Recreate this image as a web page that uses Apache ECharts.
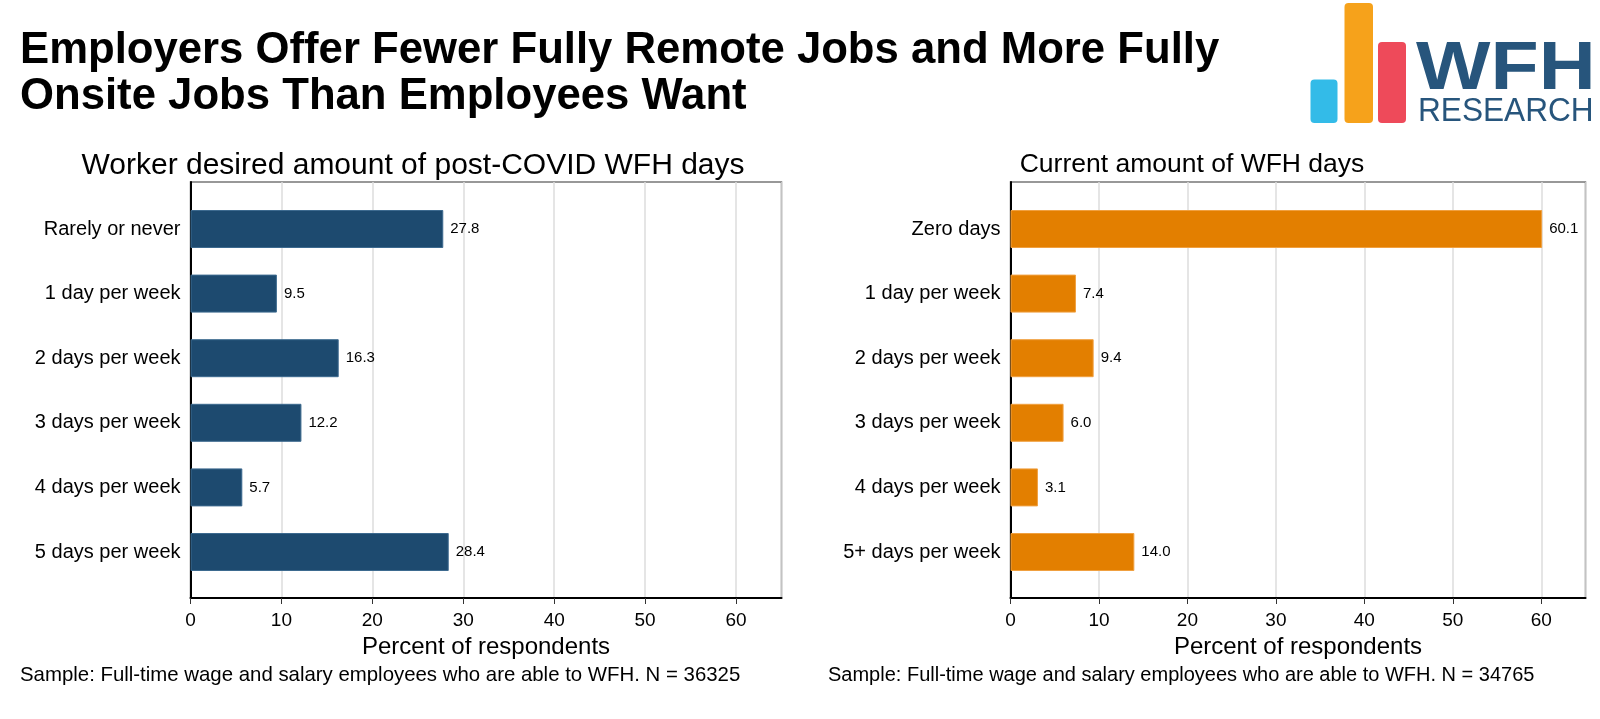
<!DOCTYPE html>
<html><head><meta charset="utf-8">
<script src="https://cdn.jsdelivr.net/npm/echarts@6/dist/echarts.min.js"></script>
<style>html,body{margin:0;padding:0;background:#fff}#c{width:1600px;height:719px}</style>
</head><body><div id="c"></div>
<script>
const leftCategories = ['Rarely or never','1 day per week','2 days per week','3 days per week','4 days per week','5 days per week'];
const leftValues = [27.8, 9.5, 16.3, 12.2, 5.7, 28.4];
const rightCategories = ['Zero days','1 day per week','2 days per week','3 days per week','4 days per week','5+ days per week'];
const rightValues = [60.1, 7.4, 9.4, 6.0, 3.1, 14.0];
const xTicks = [0,10,20,30,40,50,60];
const mainTitle = 'Employers Offer Fewer Fully Remote Jobs and More Fully\nOnsite Jobs Than Employees Want';
const leftTitle = 'Worker desired amount of post-COVID WFH days';
const rightTitle = 'Current amount of WFH days';
const axisName = 'Percent of respondents';
const leftNote = 'Sample: Full-time wage and salary employees who are able to WFH. N = 36325';
const rightNote = 'Sample: Full-time wage and salary employees who are able to WFH. N = 34765';

const FONT = 'Liberation Sans, Arial, Helvetica, sans-serif';
const chart = echarts.init(document.getElementById('c'));

const panels = [
  {left:190.5, width:591, cats:leftCategories, vals:leftValues, color:'#1d4a6f', border:'#3d6a8f'},
  {left:1010.5, width:575, cats:rightCategories, vals:rightValues, color:'#e37f00', border:'#f0a040'}
];
const grids=[], xAxes=[], yAxes=[], series=[];
panels.forEach((p,i)=>{
  grids.push({left:p.left, top:182, width:p.width, height:416, show:true, borderColor:'#777', borderWidth:1.5, backgroundColor:'#fff'});
  xAxes.push({type:'value', gridIndex:2*i, min:0, max:65, interval:10,
    axisLine:{show:true, lineStyle:{color:'#000', width:2}},
    axisTick:{show:true, length:6, lineStyle:{color:'#333'}},
    axisLabel:{fontFamily:FONT, fontSize:19, color:'#000', margin:13, showMaxLabel:false,
      formatter:v=> xTicks.includes(v)? String(v):''},
    splitLine:{show:true, lineStyle:{color:'#dcdcdc', width:1.5}},
    name:axisName, nameLocation:'middle', nameGap:35,
    nameTextStyle:{fontFamily:FONT, fontSize:24, color:'#000'}});
  yAxes.push({type:'value', gridIndex:2*i, min:0, max:1,
    axisLine:{show:true, lineStyle:{color:'#000', width:2}},
    axisTick:{show:false}, axisLabel:{show:false}, splitLine:{show:false}});
  grids.push({left:p.left, top:196.7, width:p.width, height:387.6, show:false});
  xAxes.push({type:'value', gridIndex:2*i+1, min:0, max:65, show:false});
  yAxes.push({type:'category', gridIndex:2*i+1, data:p.cats, inverse:true,
    axisLine:{show:false}, axisTick:{show:false}, splitLine:{show:false},
    axisLabel:{fontFamily:FONT, fontSize:20, color:'#000', margin:10}});
  series.push({type:'bar', xAxisIndex:2*i+1, yAxisIndex:2*i+1, data:p.vals, barWidth:38,
    itemStyle:{color:p.color, borderColor:p.border, borderWidth:1},
    label:{show:true, position:'right', distance:7, fontFamily:FONT, fontSize:15, color:'#000',
      formatter:d=>d.value.toFixed(1)}});
});

chart.setOption({
  animation:false,
  backgroundColor:'#fff',
  grid:grids, xAxis:xAxes, yAxis:yAxes, series:series,
  graphic:[
    {type:'text', left:20, top:28, style:{text:mainTitle, fontFamily:FONT, fontWeight:'bold', fontSize:43.7, lineHeight:46, fill:'#000'}},
    {type:'text', x:413, y:166, style:{text:leftTitle, fontFamily:FONT, fontSize:30, fill:'#000', align:'center', verticalAlign:'middle'}},
    {type:'text', x:1192, y:165, style:{text:rightTitle, fontFamily:FONT, fontSize:26.5, fill:'#000', align:'center', verticalAlign:'middle'}},
    {type:'text', x:20, y:675, style:{text:leftNote, fontFamily:FONT, fontSize:20.4, fill:'#000', verticalAlign:'middle'}},
    {type:'text', x:828, y:675, style:{text:rightNote, fontFamily:FONT, fontSize:20, fill:'#000', verticalAlign:'middle'}},
    {type:'rect', shape:{x:1310.5, y:79.5, width:27, height:43.5, r:4}, style:{fill:'#33bbe8'}},
    {type:'rect', shape:{x:1344.5, y:3, width:28.5, height:120, r:4}, style:{fill:'#f6a21b'}},
    {type:'rect', shape:{x:1378, y:42, width:28, height:81, r:4}, style:{fill:'#ee4a5a'}},
    {type:'text', x:1416, y:70, scaleX:1.16, style:{text:'WFH', fontFamily:FONT, fontWeight:'bold', fontSize:68, fill:'#27557c', verticalAlign:'middle'}},
    {type:'text', x:1418, y:112, scaleX:0.93, style:{text:'RESEARCH', fontFamily:FONT, fontSize:34, fill:'#27557c', verticalAlign:'middle'}}
  ]
});
</script></body></html>
